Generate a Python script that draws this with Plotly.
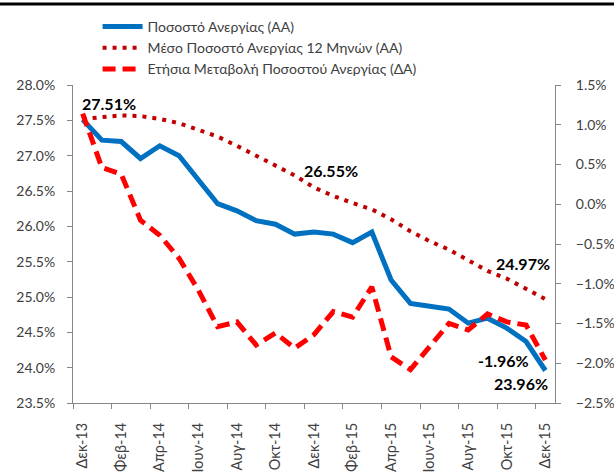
import plotly.graph_objects as go

months = ["Δεκ-13", "Ιαν-14", "Φεβ-14", "Μαρ-14", "Απρ-14", "Μαϊ-14", "Ιουν-14", "Ιουλ-14",
          "Αυγ-14", "Σεπ-14", "Οκτ-14", "Νοε-14", "Δεκ-14", "Ιαν-15", "Φεβ-15", "Μαρ-15",
          "Απρ-15", "Μαϊ-15", "Ιουν-15", "Ιουλ-15", "Αυγ-15", "Σεπ-15", "Οκτ-15", "Νοε-15", "Δεκ-15"]

rate = [27.51, 27.22, 27.20, 26.96, 27.14, 27.00, 26.66, 26.32, 26.22, 26.08, 26.03, 25.89, 25.92,
        25.89, 25.77, 25.92, 25.24, 24.91, 24.87, 24.83, 24.63, 24.70, 24.56, 24.37, 23.96]

avg12 = [27.52, 27.55, 27.57, 27.56, 27.52, 27.46, 27.36, 27.27, 27.14, 27.00, 26.87, 26.72, 26.55,
         26.43, 26.33, 26.24, 26.10, 25.93, 25.79, 25.67, 25.52, 25.37, 25.26, 25.12, 24.97]

yoy = [1.14, 0.46, 0.38, -0.20, -0.39, -0.68, -1.08, -1.54, -1.48, -1.77, -1.62, -1.81, -1.64,
       -1.35, -1.42, -1.04, -1.92, -2.08, -1.79, -1.50, -1.58, -1.38, -1.48, -1.52, -1.96]

names = ["Ποσοστό Ανεργίας (ΑΑ)", "Μέσο Ποσοστό Ανεργίας 12 Μηνών (ΑΑ)",
         "Ετήσια Μεταβολή Ποσοστού Ανεργίας (ΔΑ)"]

x = list(range(len(months)))
FONT = "Lato"
AX = "#868686"
TXT = "#404040"

fig = go.Figure()
fig.add_trace(go.Scatter(x=x, y=rate, name=names[0], mode="lines",
                         line=dict(color="#0070C0", width=5)))
fig.add_trace(go.Scatter(x=x, y=avg12, name=names[1], mode="lines",
                         line=dict(color="#C00000", width=4, dash="4px,6px")))
fig.add_trace(go.Scatter(x=x, y=yoy, name=names[2], mode="lines", yaxis="y2",
                         line=dict(color="#FF0000", width=5, dash="13px,7px")))

ann_font = dict(family=FONT, size=16, color="#000000", weight="bold")
last = len(months) - 1
fig.add_annotation(x=0, y=rate[0], text=f"{rate[0]:.2f}%", showarrow=False,
                   xshift=26, yshift=16, font=ann_font)
fig.add_annotation(x=12, y=avg12[12], text=f"{avg12[12]:.2f}%", showarrow=False,
                   xshift=17, yshift=17, font=ann_font)
fig.add_annotation(x=last, y=avg12[last], text=f"{avg12[last]:.2f}%", showarrow=False,
                   xshift=-22, yshift=36, font=ann_font)
fig.add_annotation(x=last, y=yoy[last], yref="y2", text=f"{yoy[last]:.2f}%", showarrow=False,
                   xshift=-42, yshift=0, font=ann_font)
fig.add_annotation(x=last, y=rate[last], text=f"{rate[last]:.2f}%", showarrow=False,
                   xshift=-24, yshift=-13, font=ann_font)

# top border line of chart frame
fig.add_shape(type="line", xref="paper", yref="paper", x0=-0.3, x1=1.3, y0=1.255, y1=1.255,
              line=dict(color="#000000", width=3))

fig.update_layout(
    width=614, height=472,
    margin=dict(l=73, r=59, t=85, b=69, autoexpand=False),
    paper_bgcolor="white", plot_bgcolor="white",
    font=dict(family=FONT, size=14, color=TXT),
    showlegend=True,
    legend=dict(x=0.051, y=1.233, xanchor="left", yanchor="top", bgcolor="rgba(0,0,0,0)",
                font=dict(family=FONT, size=14, color=TXT), tracegroupgap=0,
                itemwidth=40),
    xaxis=dict(range=[-0.5, len(months) - 0.5], tickmode="array",
               tickvals=x[::2], ticktext=months[::2], tickangle=-90, ticks="",
               ticklabelstandoff=13,
               showline=True, linecolor=AX, linewidth=1, showgrid=False, zeroline=False,
               automargin=False, tickfont=dict(family=FONT, size=14.5, color=TXT),
               minor=dict(tickmode="array", tickvals=[i - 0.5 for i in range(0, len(months) + 1, 2)],
                          ticks="outside", ticklen=5, tickcolor=AX, showgrid=False)),
    yaxis=dict(range=[23.5, 28.0], dtick=0.5, tick0=23.5, tickformat=".1f", ticksuffix="%",
               showline=True, linecolor=AX, ticks="outside", ticklen=5, tickcolor=AX,
               ticklabelstandoff=9,
               showgrid=False, zeroline=False, automargin=False,
               tickfont=dict(family=FONT, size=14, color=TXT)),
    yaxis2=dict(range=[-2.5, 1.5], dtick=0.5, tick0=-2.5, tickformat=".1f", ticksuffix="%",
                overlaying="y", side="right", showline=True, linecolor=AX, ticks="outside",
                ticklabelstandoff=12,
                ticklen=5, tickcolor=AX, showgrid=False, zeroline=False, automargin=False,
                tickfont=dict(family=FONT, size=14, color=TXT)),
)

fig.write_html("out.html", config={"displayModeBar": False},
               post_script="document.body.style.margin='0';")
